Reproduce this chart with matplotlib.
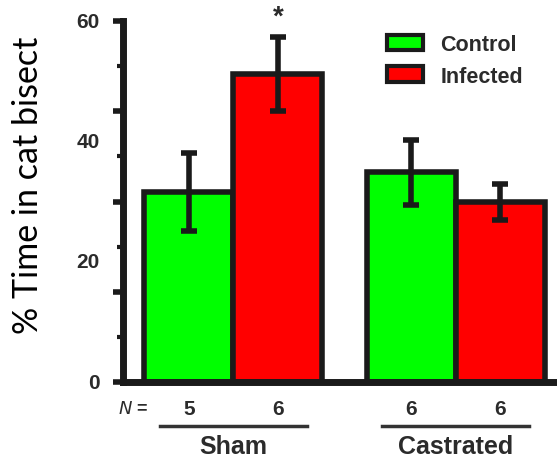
import matplotlib
matplotlib.use("Agg")
import matplotlib.pyplot as plt
from matplotlib.patches import Patch
import matplotlib.transforms as mtransforms
import numpy as np

# data
groups = ["Sham", "Castrated"]
series = ["Control", "Infected"]
control_means = [31.6, 34.9]
infected_means = [51.2, 29.9]
control_err = [6.4, 5.4]
infected_err = [6.1, 3.0]
n_control = [5, 6]
n_infected = [6, 6]
ytick_labels = [0, 20, 40, 60]

green = "#00ff00"
red = "#ff0000"
edge = "#1a1a1a"
txt = "#2b2b2b"

fig = plt.figure(figsize=(5.57, 4.6), dpi=100)
ax = fig.add_axes([0.221, 0.167, 0.779, 0.785])

centers = np.array([0.5, 3.0])
x_ctrl = centers - 0.5
x_inf = centers + 0.5

ax.bar(x_ctrl, control_means, width=1.0, color=green, edgecolor=edge, linewidth=4, zorder=2)
ax.bar(x_inf, infected_means, width=1.0, color=red, edgecolor=edge, linewidth=4, zorder=2)
ax.errorbar(x_ctrl, control_means, yerr=control_err, fmt="none", ecolor=edge,
            elinewidth=4, capsize=6, capthick=4, zorder=3)
ax.errorbar(x_inf, infected_means, yerr=infected_err, fmt="none", ecolor=edge,
            elinewidth=4, capsize=6, capthick=4, zorder=3)

# significance star over Sham infected
ax.text(x_inf[0], infected_means[0] + infected_err[0] + 1.3, "*", ha="center", va="bottom",
        fontsize=20, fontweight="bold", color=txt, family="Liberation Sans")

ax.set_xlim(-0.74, 4.14)
ax.set_ylim(0, 60)

for s in ["top", "right"]:
    ax.spines[s].set_visible(False)
for s in ["left", "bottom"]:
    ax.spines[s].set_linewidth(5)
    ax.spines[s].set_color(edge)
    ax.spines[s].set_capstyle("projecting")

ax.set_xticks([])
ax.set_yticks(np.arange(0, 61, 15))
ax.set_yticks(np.arange(7.5, 60, 15), minor=True)
ax.tick_params(axis="y", which="major", length=7, width=4, color=edge, labelleft=False)
ax.tick_params(axis="y", which="minor", length=4, width=3, color=edge)

for v in ytick_labels:
    ax.text(-1.0, v, str(v), ha="right", va="center", fontsize=15, fontweight="bold",
            color=txt, family="Liberation Sans")

fig.text(28 / 557, 1 - 185 / 460, "% Time in cat bisect", rotation=90, ha="center",
         va="center", fontsize=24.5, family="Lato", color="black")

# N row, group lines and group names below the axis
trans = mtransforms.blended_transform_factory(ax.transData, ax.transAxes)
ax.text(-0.63, -0.074, "$\\bf{\\it{N}}$ =", transform=trans, ha="center", va="center",
        fontsize=13, fontweight="bold", color=txt, family="Liberation Sans")
for xc, xi, nc, ni in zip(x_ctrl, x_inf, n_control, n_infected):
    ax.text(xc, -0.074, str(nc), transform=trans, ha="center", va="center",
            fontsize=15, fontweight="bold", color=txt, family="Liberation Sans")
    ax.text(xi, -0.074, str(ni), transform=trans, ha="center", va="center",
            fontsize=15, fontweight="bold", color=txt, family="Liberation Sans")
for c, g in zip(centers, groups):
    ax.plot([c - 0.83, c + 0.83], [-0.122, -0.122], transform=trans, color="#333333",
            lw=2.5, clip_on=False)
    ax.text(c, -0.178, g, transform=trans, ha="center", va="center",
            fontsize=18, fontweight="bold", color=txt, family="Liberation Sans")

handles = [Patch(facecolor=green, edgecolor=edge, linewidth=3),
           Patch(facecolor=red, edgecolor=edge, linewidth=3)]
leg = fig.legend(handles, series, loc="upper left", bbox_to_anchor=(387 / 557, 1 - 35 / 460),
                 frameon=False, handlelength=1.67, handleheight=0.75, handletextpad=0.8,
                 labelspacing=0.5, borderpad=0, borderaxespad=0,
                 prop={"family": "Liberation Sans", "weight": "bold", "size": 15.5})
for t in leg.get_texts():
    t.set_color(txt)

fig.savefig("out.png", dpi=100)
